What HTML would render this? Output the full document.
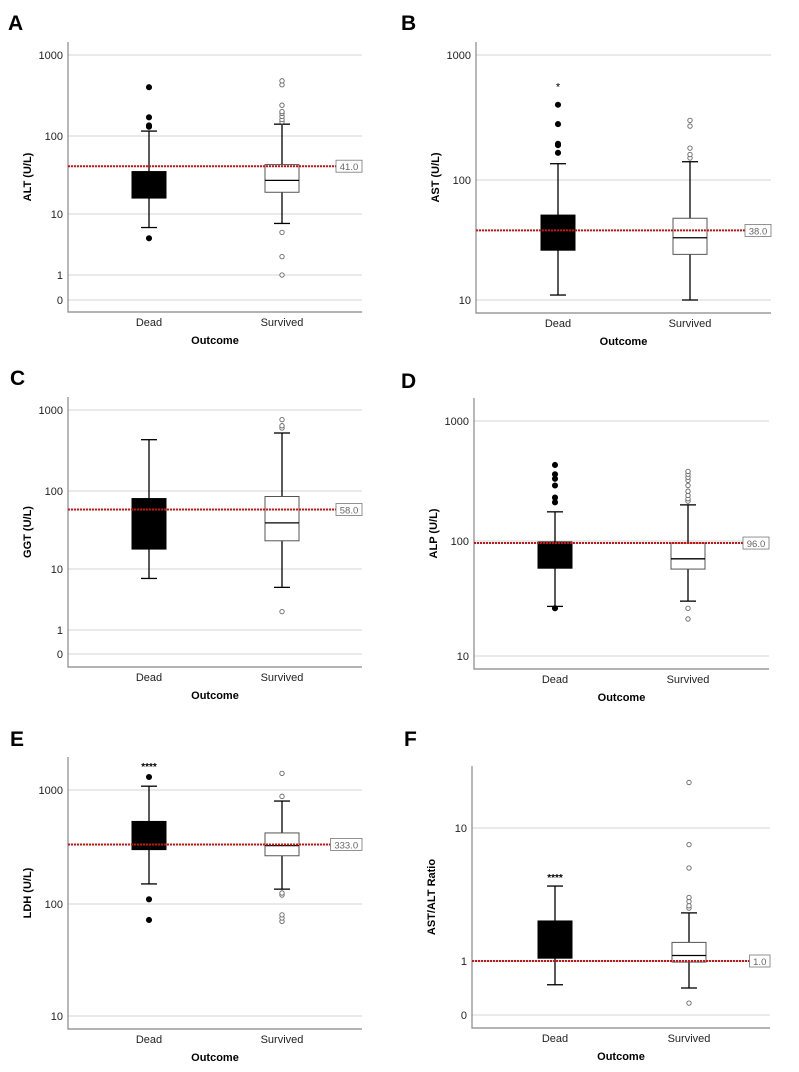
<!DOCTYPE html>
<html><head><meta charset="utf-8">
<style>
html,body{margin:0;padding:0;background:#fff;}
svg{display:block;font-family:"Liberation Sans",Arial,sans-serif;}
</style></head>
<body>
<svg id="fig" width="799" height="1072" viewBox="0 0 799 1072"></svg>
<script>
// ---- data (five-number summaries: lower whisker, Q1, median, Q3, upper whisker) ----
const categories = ["Dead","Survived"];
const altDead = [6,16,25,35,115];
const altSurv = [7,19,27,43,140];
const altDeadOut = [4,130,135,170,400];
const altSurvOut = [1,2,5,150,160,175,190,200,240,430,480];
const altRef = 41;
const altTicks = [0,1,10,100,1000];

const astDead = [11,26,38,51,135];
const astSurv = [10,24,33,48,140];
const astDeadOut = [165,190,195,280,400];
const astSurvOut = [150,160,180,270,300];
const astDeadExtreme = [570];
const astRef = 38;
const astTicks = [10,100,1000];

const ggtDead = [7,18,50,80,430];
const ggtSurv = [5,23,39,85,520];
const ggtDeadOut = [];
const ggtSurvOut = [2,600,640,760];
const ggtRef = 58;
const ggtTicks = [0,1,10,100,1000];

const alpDead = [27,58,80,98,175];
const alpSurv = [30,57,70,96,200];
const alpDeadOut = [26,210,230,290,330,360,430];
const alpSurvOut = [21,26,215,225,240,260,290,320,340,360,380];
const alpRef = 96;
const alpTicks = [10,100,1000];

const ldhDead = [150,300,400,530,1080];
const ldhSurv = [135,265,325,420,800];
const ldhDeadOut = [72,110,1300];
const ldhSurvOut = [70,75,80,120,125,880,1400];
const ldhRef = 333;
const ldhTicks = [10,100,1000];

const ratioDead = [0.56,1.05,1.5,2.0,3.66];
const ratioSurv = [0.5,0.98,1.1,1.38,2.3];
const ratioDeadOut = [];
const ratioSurvOut = [0.22,2.5,2.6,2.8,3.0,5.0,7.5,22];
const ratioRef = 1.0;
const ratioTicks = [0,1,10];

// ---- layout ----
const panels = [
 {id:"A",ylab:"ALT (U/L)",dead:altDead,surv:altSurv,dOut:altDeadOut,sOut:altSurvOut,ref:altRef,ticks:altTicks,
  tickY:[300,275,214,136,55],ax:68,top:42,bot:312,right:362,cx:[149,282],tx:8,ty:30,sig:null,ext:[]},
 {id:"B",ylab:"AST (U/L)",dead:astDead,surv:astSurv,dOut:astDeadOut,sOut:astSurvOut,ref:astRef,ticks:astTicks,
  tickY:[300,180,55],ax:476,top:42,bot:313,right:771,cx:[558,690],tx:401,ty:30,sig:null,ext:astDeadExtreme},
 {id:"C",ylab:"GGT (U/L)",dead:ggtDead,surv:ggtSurv,dOut:ggtDeadOut,sOut:ggtSurvOut,ref:ggtRef,ticks:ggtTicks,
  tickY:[654,630,569,491,410],ax:68,top:397,bot:667,right:362,cx:[149,282],tx:10,ty:385,sig:null,ext:[]},
 {id:"D",ylab:"ALP (U/L)",dead:alpDead,surv:alpSurv,dOut:alpDeadOut,sOut:alpSurvOut,ref:alpRef,ticks:alpTicks,
  tickY:[656,541,421],ax:474,top:398,bot:669,right:769,cx:[555,688],tx:401,ty:388,sig:null,ext:[]},
 {id:"E",ylab:"LDH (U/L)",dead:ldhDead,surv:ldhSurv,dOut:ldhDeadOut,sOut:ldhSurvOut,ref:ldhRef,ticks:ldhTicks,
  tickY:[1016,904,790],ax:68,top:757,bot:1029,right:362,cx:[149,282],tx:10,ty:746,sig:766,ext:[]},
 {id:"F",ylab:"AST/ALT Ratio",dead:ratioDead,surv:ratioSurv,dOut:ratioDeadOut,sOut:ratioSurvOut,ref:ratioRef,ticks:ratioTicks,
  tickY:[1015,961,828],ax:472,top:766,bot:1028,right:770,cx:[555,689],tx:404,ty:746,sig:877,ext:[]}
];

const NS="http://www.w3.org/2000/svg";
const svg=document.getElementById("fig");
function mk(tag,attrs,parent){const e=document.createElementNS(NS,tag);for(const k in attrs)e.setAttribute(k,attrs[k]);(parent||svg).appendChild(e);return e;}
function tr(v){return v<=0?0:Math.log10(v);}
function makeScale(ticks,ys){
  return function(v){
    let i=0;
    while(i<ticks.length-2 && v>ticks[i+1]) i++;
    const a=ticks[i],b=ticks[i+1];
    let f;
    if(a===0){ f=v/b; if(v>b) f=1+(tr(v)-tr(b))/( (ticks[i+2]!==undefined)?(tr(ticks[i+2])-tr(b)):1 )*((ys[i+2]!==undefined)?(ys[i+2]-ys[i+1])/(ys[i+1]-ys[i]):1); }
    else f=(tr(v)-tr(a))/(tr(b)-tr(a));
    return ys[i]+f*(ys[i+1]-ys[i]);
  };
}

panels.forEach(p=>{
  const g=mk("g",{});
  
  
  const y=makeScale(p.ticks,p.tickY);
  const t=mk("text",{x:p.tx,y:p.ty,"font-size":21,"font-weight":"bold",fill:"#000"},g);t.textContent=p.id;
  
  
  // gridlines & tick labels
  p.ticks.forEach((tv,i)=>{
    const yy=y(tv);
    const l=mk("line",{x1:p.ax,x2:p.right,y1:yy,y2:yy,stroke:"#d4d4d4","stroke-width":1},g);
    
    
    const tl=mk("text",{x:p.ax-5,y:yy+4,"font-size":11,"text-anchor":"end",fill:"#222"},g);tl.textContent=String(tv);
    
    
  });
  // axes
  const axl=mk("path",{d:`M${p.ax} ${p.top}V${p.bot}H${p.right}`,fill:"none",stroke:"#888","stroke-width":1.2},g);
  
  
  const yl=mk("text",{transform:`translate(${p.ax-37},${(p.top+p.bot)/2}) rotate(-90)`,"font-size":11,"font-weight":"bold","text-anchor":"middle"},g);yl.textContent=p.ylab;
  
  
  categories.forEach((c,i)=>{
    const xl=mk("text",{x:p.cx[i],y:p.bot+14,"font-size":11,"text-anchor":"middle",fill:"#222"},g);xl.textContent=c;
    
    
  });
  const xt=mk("text",{x:(p.ax+p.right)/2,y:p.bot+32,"font-size":11,"font-weight":"bold","text-anchor":"middle"},g);xt.textContent="Outcome";
  
  
  // boxes
  [p.dead,p.surv].forEach((s,i)=>{
    const cx=p.cx[i],hw=17,filled=i===0;
    const bg=mk("g",{},g);
    
    
    mk("line",{x1:cx,x2:cx,y1:y(s[0]),y2:y(s[1]),stroke:"#000","stroke-width":1.3},bg);
    mk("line",{x1:cx,x2:cx,y1:y(s[3]),y2:y(s[4]),stroke:"#000","stroke-width":1.3},bg);
    mk("line",{x1:cx-8,x2:cx+8,y1:y(s[0]),y2:y(s[0]),stroke:"#000","stroke-width":1.3},bg);
    mk("line",{x1:cx-8,x2:cx+8,y1:y(s[4]),y2:y(s[4]),stroke:"#000","stroke-width":1.3},bg);
    mk("rect",{x:cx-hw,y:y(s[3]),width:2*hw,height:y(s[1])-y(s[3]),fill:filled?"#000":"#fff",stroke:filled?"#000":"#555","stroke-width":1},bg);
    if(!filled) mk("line",{x1:cx-hw,x2:cx+hw,y1:y(s[2]),y2:y(s[2]),stroke:"#000","stroke-width":1.3},bg);
    (i===0?p.dOut:p.sOut).forEach(v=>{
      const c=mk("circle",{cx:cx,cy:y(v),r:filled?2.6:2.2,fill:filled?"#000":"#fff",stroke:filled?"#000":"#666","stroke-width":0.9},bg);
      
      
    });
    if(i===0) p.ext.forEach(v=>{
      const e=mk("text",{x:cx,y:y(v)+5,"font-size":11,"text-anchor":"middle"},bg);e.textContent="*";
      
      
    });
  });
  if(p.sig){
    const st=mk("text",{x:p.cx[0],y:p.sig+4,"font-size":10,"font-weight":"bold","text-anchor":"middle"},g);st.textContent="****";
    
    
  }
  // reference line
  const ry=y(p.ref);
  const lbl=p.ref.toFixed(1);
  const bw=lbl.length*5.5+4;
  const rl=mk("line",{x1:p.ax,x2:p.right-bw,y1:ry,y2:ry,stroke:"#d01010","stroke-width":2,"stroke-dasharray":"2,1"},g);
  
  
  const rb=mk("rect",{x:p.right-bw,y:ry-6,width:bw,height:12,fill:"#fff",stroke:"#777","stroke-width":0.8},g);
  
  
  const rt=mk("text",{x:p.right-bw/2,y:ry+4,"font-size":9.5,"text-anchor":"middle",fill:"#666"},g);rt.textContent=lbl;
  
  
});
</script>
</body></html>
